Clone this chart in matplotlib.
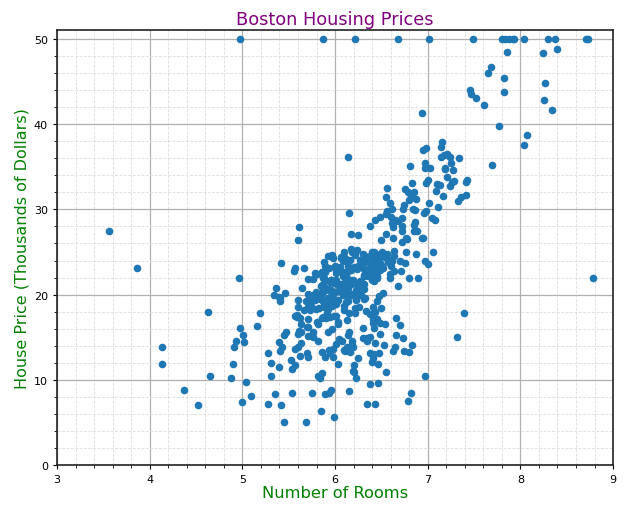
import numpy as np
import matplotlib
matplotlib.use("Agg")
import matplotlib.pyplot as plt
from matplotlib.ticker import MultipleLocator

# average number of rooms per dwelling and median value (k$)
rooms = [
    6.575, 6.421, 7.185, 6.998, 7.147, 6.430, 6.012, 6.172, 5.631, 6.004, 6.377, 6.009, 5.889, 5.949, 6.096,
    5.834, 5.935, 5.990, 5.456, 5.727, 5.570, 5.965, 6.142, 5.813, 5.924, 5.599, 5.813, 6.047, 6.495, 6.674,
    5.713, 6.072, 5.950, 5.701, 6.096, 5.933, 5.841, 5.850, 5.966, 6.595, 7.024, 6.770, 6.169, 6.211, 6.069,
    5.682, 5.786, 6.030, 5.399, 5.602, 5.963, 6.115, 6.511, 5.998, 5.888, 7.249, 6.383, 6.816, 6.145, 5.927,
    5.741, 5.966, 6.456, 6.762, 7.104, 6.290, 5.787, 5.878, 5.594, 5.885, 6.417, 5.961, 6.065, 6.245, 6.273,
    6.286, 6.279, 6.140, 6.232, 5.874, 6.727, 6.619, 6.302, 6.167, 6.389, 6.630, 6.015, 6.121, 7.007, 7.079,
    6.417, 6.405, 6.442, 6.211, 6.249, 6.625, 6.163, 8.069, 7.820, 7.416, 6.727, 6.781, 6.405, 6.137, 6.167,
    5.851, 5.836, 6.127, 6.474, 6.229, 6.195, 6.715, 5.913, 6.092, 6.254, 5.928, 6.176, 6.021, 5.872, 5.731,
    5.870, 6.004, 5.961, 5.856, 5.879, 5.986, 5.613, 5.693, 6.431, 5.637, 6.458, 6.326, 6.372, 5.822, 5.757,
    6.335, 5.942, 6.454, 5.857, 6.151, 6.174, 5.019, 5.403, 5.468, 4.903, 6.130, 5.628, 4.926, 5.186, 5.597,
    6.122, 5.404, 5.012, 5.709, 6.129, 6.152, 5.272, 6.943, 6.066, 6.510, 6.250, 7.489, 7.802, 8.375, 5.854,
    6.101, 7.929, 5.877, 6.319, 6.402, 5.875, 5.880, 5.572, 6.416, 5.859, 6.546, 6.020, 6.315, 6.860, 6.980,
    7.765, 6.144, 7.155, 6.563, 5.604, 6.153, 7.831, 6.782, 6.556, 7.185, 6.951, 6.739, 7.178, 6.800, 6.604,
    7.875, 7.287, 7.107, 7.274, 6.975, 7.135, 6.162, 7.610, 7.853, 8.034, 5.891, 6.326, 5.783, 6.064, 5.344,
    5.960, 5.404, 5.807, 6.375, 5.412, 6.182, 5.888, 6.642, 5.951, 6.373, 6.951, 6.164, 6.879, 6.618, 8.266,
    8.725, 8.040, 7.163, 7.686, 6.552, 5.981, 7.412, 8.337, 8.247, 6.726, 6.086, 6.631, 7.358, 6.481, 6.606,
    6.897, 6.095, 6.358, 6.393, 5.593, 5.605, 6.108, 6.226, 6.433, 6.718, 6.487, 6.438, 6.957, 8.259, 6.108,
    5.876, 7.454, 8.704, 7.333, 6.842, 7.203, 7.520, 8.398, 7.327, 7.206, 5.560, 7.014, 8.297, 7.470, 5.920,
    5.856, 6.240, 6.538, 7.691, 6.758, 6.854, 7.267, 6.826, 6.482, 6.812, 7.820, 6.968, 7.645, 7.923, 7.088,
    6.453, 6.230, 6.209, 6.315, 6.565, 6.861, 7.148, 6.630, 6.127, 6.009, 6.678, 6.549, 5.790, 6.345, 7.041,
    6.871, 6.590, 6.495, 6.982, 7.236, 6.616, 7.420, 6.849, 6.635, 5.972, 4.973, 6.122, 6.023, 6.266, 6.567,
    5.705, 5.914, 5.782, 6.382, 6.113, 6.426, 6.376, 6.041, 5.708, 6.415, 6.431, 6.312, 6.083, 5.868, 6.333,
    6.144, 5.706, 6.031, 6.316, 6.310, 6.037, 5.869, 5.895, 6.059, 5.985, 5.968, 7.241, 6.540, 6.696, 6.874,
    6.014, 5.898, 6.516, 6.635, 6.939, 6.490, 6.579, 5.884, 6.728, 5.663, 5.936, 6.212, 6.395, 6.127, 6.112,
    6.398, 6.251, 5.362, 5.803, 8.780, 3.561, 4.963, 3.863, 4.970, 6.683, 7.016, 6.216, 5.875, 4.906, 4.138,
    7.313, 6.649, 6.794, 6.380, 6.223, 6.968, 6.545, 5.536, 5.520, 4.368, 5.277, 4.652, 5.000, 4.880, 5.390,
    5.713, 6.051, 5.036, 6.193, 5.887, 6.471, 6.405, 5.747, 5.453, 5.852, 5.987, 6.343, 6.404, 5.349, 5.531,
    5.683, 4.138, 5.608, 5.617, 6.852, 5.757, 6.657, 4.628, 5.155, 4.519, 6.434, 6.782, 5.304, 5.957, 6.824,
    6.411, 6.006, 5.648, 6.103, 5.565, 5.896, 5.837, 6.202, 6.193, 6.380, 6.348, 6.833, 6.425, 6.436, 6.208,
    6.629, 6.461, 6.152, 5.935, 5.627, 5.818, 6.406, 6.219, 6.485, 5.854, 6.459, 6.341, 6.251, 6.185, 6.417,
    6.749, 6.655, 6.297, 7.393, 6.728, 6.525, 5.976, 5.936, 6.301, 6.081, 6.701, 6.376, 6.317, 6.513, 6.209,
    5.759, 5.952, 6.003, 5.926, 5.713, 6.167, 6.229, 6.437, 6.980, 5.427, 6.162, 6.484, 5.304, 6.185, 6.229,
    6.242, 6.750, 7.061, 5.762, 5.871, 6.312, 6.114, 5.905, 5.454, 5.414, 5.093, 5.983, 5.983, 5.707, 5.926,
    5.670, 5.390, 5.794, 6.019, 5.569, 6.027, 6.593, 6.120, 6.976, 6.794, 6.030,
]

prices = [
    24.0, 21.6, 34.7, 33.4, 36.2, 28.7, 22.9, 27.1, 16.5, 18.9, 15.0, 18.9, 21.7, 20.4, 18.2,
    19.9, 23.1, 17.5, 20.2, 18.2, 13.6, 19.6, 15.2, 14.5, 15.6, 13.9, 16.6, 14.8, 18.4, 21.0,
    12.7, 14.5, 13.2, 13.1, 13.5, 18.9, 20.0, 21.0, 24.7, 30.8, 34.9, 26.6, 25.3, 24.7, 21.2,
    19.3, 20.0, 16.6, 14.4, 19.4, 19.7, 20.5, 25.0, 23.4, 18.9, 35.4, 24.7, 31.6, 23.3, 19.6,
    18.7, 16.0, 22.2, 25.0, 33.0, 23.5, 19.4, 22.0, 17.4, 20.9, 24.2, 21.7, 22.8, 23.4, 24.1,
    21.4, 20.0, 20.8, 21.2, 20.3, 28.0, 23.9, 24.8, 22.9, 23.9, 26.6, 22.5, 22.2, 23.6, 28.7,
    22.6, 22.0, 22.9, 25.0, 20.6, 28.4, 21.4, 38.7, 43.8, 33.2, 27.5, 26.5, 18.6, 19.3, 20.1,
    19.5, 19.5, 20.4, 19.8, 19.4, 21.7, 22.8, 18.8, 18.7, 18.5, 18.3, 21.2, 19.2, 20.4, 19.3,
    22.0, 20.3, 20.5, 17.3, 18.8, 21.4, 15.7, 16.2, 18.0, 14.3, 19.2, 19.6, 23.0, 18.4, 15.6,
    18.1, 17.4, 17.1, 13.3, 17.8, 14.0, 14.4, 13.4, 15.6, 11.8, 13.8, 15.6, 14.6, 17.8, 15.4,
    21.5, 19.6, 15.3, 19.4, 17.0, 15.6, 13.1, 41.3, 24.3, 23.3, 27.0, 50.0, 50.0, 50.0, 22.7,
    25.0, 50.0, 23.8, 23.8, 22.3, 17.4, 19.1, 23.1, 23.6, 22.6, 29.4, 23.2, 24.6, 29.9, 37.2,
    39.8, 36.2, 37.9, 32.5, 26.4, 29.6, 50.0, 32.0, 29.8, 34.9, 37.0, 30.5, 36.4, 31.1, 29.1,
    50.0, 33.3, 30.3, 34.6, 34.9, 32.9, 24.1, 42.3, 48.5, 50.0, 22.6, 24.4, 22.5, 24.4, 20.0,
    21.7, 19.3, 22.4, 28.1, 23.7, 25.0, 23.3, 28.7, 21.5, 23.0, 26.7, 21.7, 27.5, 30.1, 44.8,
    50.0, 37.6, 31.6, 46.7, 31.5, 24.3, 31.7, 41.7, 48.3, 29.0, 24.0, 25.1, 31.5, 23.7, 23.3,
    22.0, 20.1, 22.2, 23.7, 17.6, 18.5, 24.3, 20.5, 24.5, 26.2, 24.4, 24.8, 29.6, 42.8, 21.9,
    20.9, 44.0, 50.0, 36.0, 30.1, 33.8, 43.1, 48.8, 31.0, 36.5, 22.8, 30.7, 50.0, 43.5, 20.7,
    21.1, 25.2, 24.4, 35.2, 32.4, 32.0, 33.2, 33.1, 29.1, 35.1, 45.4, 35.4, 46.0, 50.0, 32.2,
    22.0, 20.1, 23.2, 22.3, 24.8, 28.5, 37.3, 27.9, 23.9, 21.7, 28.6, 27.1, 20.3, 22.5, 29.0,
    24.8, 22.0, 26.4, 33.1, 36.1, 28.4, 33.4, 28.2, 22.8, 20.3, 16.1, 22.1, 19.4, 21.6, 23.8,
    16.2, 17.8, 19.8, 23.1, 21.0, 23.8, 23.1, 20.4, 18.5, 25.0, 24.6, 23.0, 22.2, 19.3, 22.6,
    19.8, 17.1, 19.4, 22.2, 20.7, 21.1, 19.5, 18.5, 20.6, 19.0, 18.7, 32.7, 16.5, 23.9, 31.2,
    17.5, 17.2, 23.1, 24.5, 26.6, 22.9, 24.1, 18.6, 30.1, 18.2, 20.6, 17.8, 21.7, 22.7, 22.6,
    25.0, 19.9, 20.8, 16.8, 21.9, 27.5, 21.9, 23.1, 50.0, 50.0, 50.0, 50.0, 50.0, 13.8, 13.8,
    15.0, 13.9, 13.3, 13.1, 10.2, 10.4, 10.9, 11.3, 12.3, 8.8, 7.2, 10.5, 7.4, 10.2, 11.5,
    15.1, 23.2, 9.7, 13.8, 12.7, 13.1, 12.5, 8.5, 5.0, 6.3, 5.6, 7.2, 12.1, 8.3, 8.5,
    5.0, 11.9, 27.9, 17.2, 27.5, 15.0, 17.2, 17.9, 16.3, 7.0, 7.2, 7.5, 10.4, 8.8, 8.4,
    16.7, 14.2, 20.8, 13.4, 11.7, 8.3, 10.2, 10.9, 11.0, 9.5, 14.5, 14.1, 16.1, 14.3, 11.7,
    13.4, 9.6, 8.7, 8.4, 12.8, 10.5, 17.1, 18.4, 15.4, 10.8, 11.8, 14.9, 12.6, 14.1, 13.0,
    13.4, 15.2, 16.1, 17.8, 14.9, 14.1, 12.7, 13.5, 14.9, 20.0, 16.4, 17.7, 19.5, 20.2, 21.4,
    19.9, 19.0, 19.1, 19.1, 20.1, 19.9, 19.6, 23.2, 29.8, 13.8, 13.3, 16.7, 12.0, 14.6, 21.4,
    23.0, 23.7, 25.0, 21.8, 20.6, 21.2, 19.1, 20.6, 15.2, 7.0, 8.1, 13.6, 20.1, 21.8, 24.5,
    23.1, 19.7, 18.3, 21.2, 17.5, 16.8, 22.4, 20.6, 23.9, 22.0, 11.9,
]

n = min(len(rooms), len(prices))

fig = plt.figure(figsize=(6.44, 5.10), dpi=100)
ax = fig.add_axes([0.0885, 0.0863, 0.8635, 0.852])

ax.scatter(rooms[:n], prices[:n], s=20, color='#1f77b4', zorder=3)

ax.set_xlim(3, 9)
ax.set_ylim(0, 51)
ax.xaxis.set_major_locator(MultipleLocator(1))
ax.xaxis.set_minor_locator(MultipleLocator(0.2))
ax.yaxis.set_major_locator(MultipleLocator(10))
ax.yaxis.set_minor_locator(MultipleLocator(2))

ax.grid(which='major', color='#b0b0b0', linewidth=0.9, linestyle='-')
ax.grid(which='minor', color='#dddddd', linewidth=0.6, linestyle='--')
ax.set_axisbelow(True)

ax.tick_params(labelsize=8, length=3)
ax.tick_params(which='minor', length=2)
for sp in ax.spines.values():
    sp.set_linewidth(1.2)
    sp.set_color('#222222')

ax.set_title('Boston Housing Prices', color='purple', fontsize=12.8, pad=5)
ax.set_xlabel('Number of Rooms', color='green', fontsize=11.7, labelpad=1)
ax.set_ylabel('House Price (Thousands of Dollars)', color='green', fontsize=11.5, labelpad=3)

fig.savefig('out.png', dpi=100)
